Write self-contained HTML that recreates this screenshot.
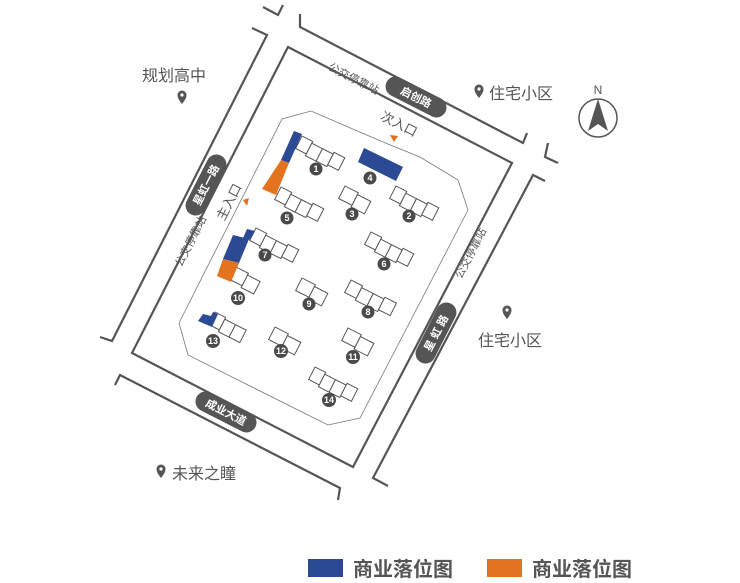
<!DOCTYPE html>
<html><head><meta charset="utf-8"><style>
html,body{margin:0;padding:0;background:#fff}
svg{display:block}
text{font-family:"Liberation Sans","Noto Sans CJK SC",sans-serif;fill:#555}
.b rect{fill:#fff;stroke:#555;stroke-width:1}
.n circle{fill:#4a4a4a}
.n text{fill:#fff;font-size:9px;font-weight:bold;text-anchor:middle}
</style></head><body>
<svg width="740" height="583" viewBox="0 0 740 583">
<g fill="none" stroke="#555" stroke-width="2.2">
<polyline points="263,7 278,15 283,5"/>
<polyline points="300,14 300,27 523,143 527,133"/>
<polyline points="252,28 267,35 112,341 100,337"/>
<polyline points="548,143 545,157 558,163"/>
<polyline points="115,385 120,375 340,488 338,500"/>
<polyline points="388,486 373,478 533,175 545,181"/>
<polygon points="288,47 512,163 353,467 132,353"/>
</g>
<polygon points="282,119 311,111 383,142 420,157 458,180 468,210 360,418 328,425 188,355 179,323" fill="none" stroke="#777" stroke-width="0.8"/>

<g transform="translate(416,97) rotate(27)"><rect x="-33" y="-10" width="66" height="20" rx="10" fill="#555"/><text x="0" y="4" font-size="11" text-anchor="middle" style="fill:#fff;font-weight:bold">启创路</text></g>
<g transform="translate(206,185) rotate(-63)"><rect x="-33" y="-10" width="66" height="20" rx="10" fill="#555"/><text x="0" y="4" font-size="11" text-anchor="middle" style="fill:#fff;font-weight:bold">星虹一路</text></g>
<g transform="translate(436,333) rotate(-63)"><rect x="-33" y="-10" width="66" height="20" rx="10" fill="#555"/><text x="0" y="4" font-size="11" text-anchor="middle" style="fill:#fff;font-weight:bold">星 虹 路</text></g>
<g transform="translate(226,412) rotate(27)"><rect x="-33" y="-10" width="66" height="20" rx="10" fill="#555"/><text x="0" y="4" font-size="11" text-anchor="middle" style="fill:#fff;font-weight:bold">成业大道</text></g>

<g font-size="11">
<text transform="translate(352,82) rotate(27)" text-anchor="middle">公交停靠站</text>
<text transform="translate(194,243) rotate(-63)" text-anchor="middle">公交停靠站</text>
<text transform="translate(474,255) rotate(-63)" text-anchor="middle">公交停靠站</text>
</g>
<g font-size="13">
<text transform="translate(397,128) rotate(27)" text-anchor="middle">次入口</text>
<text transform="translate(233,204) rotate(-63)" text-anchor="middle">主入口</text>
</g>
<polygon points="390,135 398,136 394,142" fill="#e07020"/>
<polygon points="243,200 249,198 247,206" fill="#e07020"/>

<g class="b">
<g transform="translate(302,136) rotate(27)"><rect x="0" y="0" width="12" height="14"/><rect x="12" y="2" width="12" height="14"/><rect x="24" y="2" width="12" height="14"/><rect x="36" y="0" width="12" height="14"/></g>
<g transform="translate(281,187) rotate(27)"><rect x="0" y="0" width="12" height="14"/><rect x="12" y="2" width="12" height="14"/><rect x="24" y="2" width="12" height="14"/><rect x="36" y="0" width="12" height="14"/></g>
<g transform="translate(345,186) rotate(27)"><rect x="0" y="0" width="15" height="14"/><rect x="15" y="2" width="15" height="14"/></g>
<g transform="translate(396,186) rotate(27)"><rect x="0" y="0" width="12" height="14"/><rect x="12" y="2" width="12" height="14"/><rect x="24" y="2" width="12" height="14"/><rect x="36" y="0" width="12" height="14"/></g>
<g transform="translate(371,232) rotate(27)"><rect x="0" y="0" width="12" height="14"/><rect x="12" y="2" width="12" height="14"/><rect x="24" y="2" width="12" height="14"/><rect x="36" y="0" width="12" height="14"/></g>
<g transform="translate(256,228) rotate(27)"><rect x="0" y="0" width="12" height="14"/><rect x="12" y="2" width="12" height="14"/><rect x="24" y="2" width="12" height="14"/><rect x="36" y="0" width="12" height="14"/></g>
<g transform="translate(236,267) rotate(27)"><rect x="0" y="0" width="14" height="14"/><rect x="14" y="2" width="14" height="14"/></g>
<g transform="translate(302,278) rotate(27)"><rect x="0" y="0" width="15" height="14"/><rect x="15" y="2" width="15" height="14"/></g>
<g transform="translate(351,280) rotate(27)"><rect x="0" y="0" width="13" height="14"/><rect x="13" y="2" width="13" height="14"/><rect x="26" y="2" width="12" height="14"/><rect x="38" y="0" width="13" height="14"/></g>
<g transform="translate(215,312) rotate(27)"><rect x="0" y="0" width="12" height="14"/><rect x="12" y="2" width="12" height="14"/><rect x="24" y="2" width="12" height="14"/></g>
<g transform="translate(275,327) rotate(27)"><rect x="0" y="0" width="15" height="14"/><rect x="15" y="2" width="15" height="14"/></g>
<g transform="translate(348,328) rotate(27)"><rect x="0" y="0" width="15" height="14"/><rect x="15" y="2" width="15" height="14"/></g>
<g transform="translate(315,367) rotate(27)"><rect x="0" y="0" width="12" height="14"/><rect x="12" y="2" width="12" height="14"/><rect x="24" y="2" width="12" height="14"/><rect x="36" y="0" width="12" height="14"/></g>
</g>

<polygon points="294,131 302,134 289,163 281,160" fill="#2b4a93"/>
<polygon points="281,160 289,163 276,195 262,189" fill="#e3731f"/>
<polygon points="364,148 403,167 396,181 358,162" fill="#2b4a93"/>
<polygon points="233,235 249,239 239,263 223,259" fill="#2b4a93"/>
<polygon points="247,229 255,231 250,240 243,238" fill="#2b4a93"/>
<polygon points="223,259 239,263 231,282 217,276" fill="#e3731f"/>
<polygon points="203,314 211,316 213,312 218,314 212,327 198,321" fill="#2b4a93"/>

<g class="n">
<g transform="translate(316,169)"><circle r="6.5"/><text y="3">1</text></g>
<g transform="translate(409,216)"><circle r="6.5"/><text y="3">2</text></g>
<g transform="translate(352,214)"><circle r="6.5"/><text y="3">3</text></g>
<g transform="translate(370,178)"><circle r="6.5"/><text y="3">4</text></g>
<g transform="translate(287,218)"><circle r="6.5"/><text y="3">5</text></g>
<g transform="translate(384,264)"><circle r="6.5"/><text y="3">6</text></g>
<g transform="translate(265,255)"><circle r="6.5"/><text y="3">7</text></g>
<g transform="translate(368,312)"><circle r="6.5"/><text y="3">8</text></g>
<g transform="translate(309,304)"><circle r="6.5"/><text y="3">9</text></g>
<g transform="translate(238,298)"><circle r="7"/><text y="3">10</text></g>
<g transform="translate(353,357)"><circle r="7"/><text y="3">11</text></g>
<g transform="translate(281,351)"><circle r="7"/><text y="3">12</text></g>
<g transform="translate(213,341)"><circle r="7"/><text y="3">13</text></g>
<g transform="translate(329,400)"><circle r="7"/><text y="3">14</text></g>
</g>

<defs><path id="pin" d="M0,0 C-4,-5 -4.5,-7 -4.5,-9 A4.5,4.5 0 0 1 4.5,-9 C4.5,-7 4,-5 0,0Z"/></defs>
<g fill="#555">
<use href="#pin" x="182" y="104"/><circle cx="182" cy="95" r="1.6" fill="#fff"/>
<use href="#pin" x="479" y="98"/><circle cx="479" cy="89" r="1.6" fill="#fff"/>
<use href="#pin" x="507" y="319"/><circle cx="507" cy="310" r="1.6" fill="#fff"/>
<use href="#pin" x="161" y="478"/><circle cx="161" cy="469" r="1.6" fill="#fff"/>
</g>
<g font-size="16">
<text x="142" y="81">规划高中</text>
<text x="489" y="99">住宅小区</text>
<text x="478" y="346">住宅小区</text>
<text x="172" y="479">未来之瞳</text>
</g>

<circle cx="598" cy="118" r="19" fill="none" stroke="#555" stroke-width="1.5"/>
<polygon points="598,99 608,131 598,124 588,131" fill="#555"/>
<text x="598" y="94" font-size="12" text-anchor="middle">N</text>

<rect x="308" y="559" width="35" height="18" fill="#2b4a93"/>
<text x="353" y="576" font-size="20" font-weight="bold">商业落位图</text>
<rect x="487" y="559" width="35" height="18" fill="#e3731f"/>
<text x="532" y="576" font-size="20" font-weight="bold">商业落位图</text>
</svg>
</body></html>
